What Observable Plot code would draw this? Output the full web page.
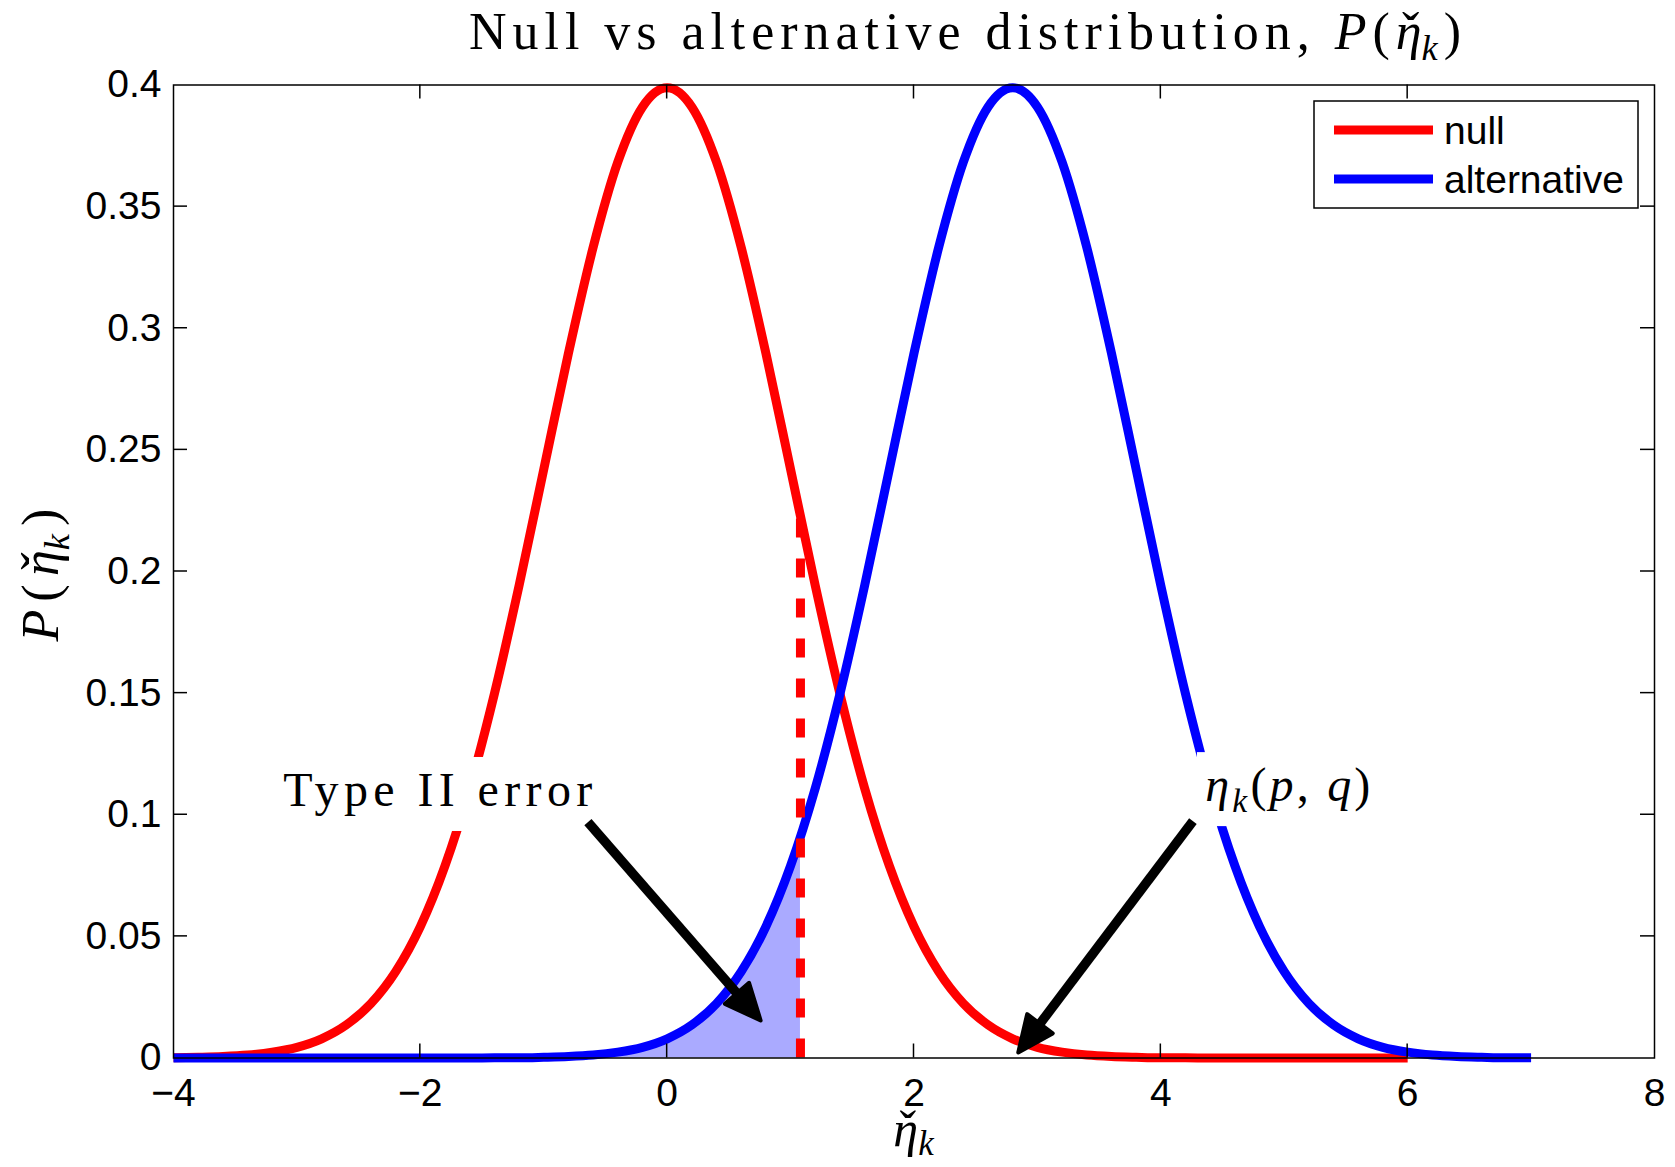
<!DOCTYPE html>
<html><head><meta charset="utf-8">
<script src="https://cdn.jsdelivr.net/npm/d3@7"></script>
<script src="https://cdn.jsdelivr.net/npm/@observablehq/plot@0.6"></script>
<style>html,body{margin:0;padding:0;background:#fff;} svg{display:block}</style>
</head><body><div id="chart"></div>
<script>
// ---- data ----
const xs = [-4,-3.8,-3.6,-3.4,-3.2,-3,-2.8,-2.6,-2.4,-2.2,-2,-1.8,-1.6,-1.4,-1.2,-1,-0.8,-0.6,-0.4,-0.2,
  0,0.2,0.4,0.6,0.8,1,1.2,1.4,1.6,1.8,2,2.2,2.4,2.6,2.8,3,3.2,3.4,3.6,3.8,4,4.2,4.4,4.6,4.8,5,5.2,5.4,5.6,5.8,6,
  6.2,6.4,6.6,6.8,7];
const nullY = [0.0001,0.0003,0.0006,0.0012,0.0024,0.0044,0.0079,0.0136,0.0224,0.0355,0.0540,0.0790,0.1109,0.1497,0.1942,0.2420,0.2897,0.3332,0.3683,0.3910,
  0.3989,0.3910,0.3683,0.3332,0.2897,0.2420,0.1942,0.1497,0.1109,0.0790,0.0540,0.0355,0.0224,0.0136,0.0079,0.0044,0.0024,0.0012,0.0006,0.0003,0.0001,0.0001,
  0,0,0,0,0,0,0,0,0];
const altY = [0,0,0,0,0,0,0,0,0,0,0,0,0,0.0001,0.0001,0.0003,0.0006,0.0012,0.0024,0.0044,
  0.0079,0.0136,0.0224,0.0355,0.0540,0.0790,0.1109,0.1497,0.1942,0.2420,0.2897,0.3332,0.3683,0.3910,0.3989,0.3910,0.3683,0.3332,0.2897,0.2420,0.1942,0.1497,
  0.1109,0.0790,0.0540,0.0355,0.0224,0.0136,0.0079,0.0044,0.0024,0.0012,0.0006,0.0003,0.0001,0.0001];
const threshold = 1.08;
const nullAtThreshold = 0.2227;
const altAtThreshold = 0.0909;
const xTicks = [-4,-2,0,2,4,6,8];
const xTickLabels = ["\u22124","\u22122","0","2","4","6","8"];
const yTicks = [0,0.05,0.1,0.15,0.2,0.25,0.3,0.35,0.4];
const yTickLabels = ["0","0.05","0.1","0.15","0.2","0.25","0.3","0.35","0.4"];
const seriesNames = ["null","alternative"];
const seriesColors = ["#ff0000","#0000ff"];
const arrows = [
  {x1:-0.638, y1:0.0968, x2:0.772, y2:0.0146},
  {x1:4.264, y1:0.0972, x2:2.839, y2:0.0014}
];
const labels = [
  {x:-1.833, y:0.1034, parts:[["Type II error",""]], len:309},
  {x:5.046, y:0.1054, parts:[["\u03B7","i"],["k","sub"],["(",""],["p","i"],[", ",""],["q","i"],[")",""]], len:165}
];
const titleParts = [["Null vs alternative distribution, ",""],["P","i"],["(",""],["\u03B7","ic"],["k","sub"],[")",""]];
const xLabelParts = [["\u03B7","ic"],["k","sub"]];
const yLabelParts = [["P","i"],["(",""],["\u03B7","ic"],["k","sub"],[")",""]];

// ---- build tables ----
const nullData = nullY.map((y,i)=>({x:xs[i], y}));
const altData = altY.map((y,i)=>({x:xs[i], y}));
const fillData = altData.filter(d=>d.x<=threshold).concat([{x:threshold, y:altAtThreshold}]);

const W = 1675, H = 1167;
const plot = Plot.plot({
  width: W, height: H,
  marginLeft: 173, marginRight: 21, marginTop: 84.5, marginBottom: 109.5,
  x: {domain:[-4,8], label:null},
  y: {domain:[0,0.4], label:null},
  style: {fontFamily:"'Liberation Sans', Arial, sans-serif", color:"black", background:"white", overflow:"visible"},
  marks: [
    Plot.areaY(fillData, {x:"x", y:"y", fill:"#aaaaff", curve:"monotone-x"}),
    Plot.line(nullData, {x:"x", y:"y", stroke:seriesColors[0], strokeWidth:9, curve:"monotone-x", strokeLinejoin:"round", strokeLinecap:"butt"}),
    Plot.line(altData, {x:"x", y:"y", stroke:seriesColors[1], strokeWidth:9, curve:"monotone-x", strokeLinejoin:"round", strokeLinecap:"butt"}),
    Plot.ruleX([threshold], {y1:0, y2:nullAtThreshold, stroke:seriesColors[0], strokeWidth:9, strokeDasharray:"19,21"}),
    Plot.frame({stroke:"black", strokeWidth:1.5}),
    Plot.axisX(xTicks, {anchor:"bottom", tickSize:0, tickPadding:20, fontSize:39, label:null,
      tickFormat: d => xTickLabels[xTicks.indexOf(d)]}),
    Plot.axisY(yTicks, {anchor:"left", tickSize:0, tickPadding:12, fontSize:39, label:null,
      tickFormat: d => yTickLabels[yTicks.indexOf(d)]})
  ]
});
document.getElementById("chart").appendChild(plot);

const svg = d3.select(plot);
const sx = plot.scale("x"), sy = plot.scale("y");
const X = v => sx.apply(v), Y = v => sy.apply(v);
const serif = "'Liberation Serif', 'Times New Roman', serif";

// inward ticks on all four sides
const tg = svg.append("g").attr("stroke","black").attr("stroke-width",1.5);
xTicks.slice(1,-1).forEach(v=>{
  tg.append("line").attr("x1",X(v)).attr("x2",X(v)).attr("y1",Y(0)).attr("y2",Y(0)-14);
  tg.append("line").attr("x1",X(v)).attr("x2",X(v)).attr("y1",Y(0.4)).attr("y2",Y(0.4)+14);
});
yTicks.slice(1,-1).forEach(v=>{
  tg.append("line").attr("y1",Y(v)).attr("y2",Y(v)).attr("x1",X(-4)).attr("x2",X(-4)+14);
  tg.append("line").attr("y1",Y(v)).attr("y2",Y(v)).attr("x1",X(8)).attr("x2",X(8)-14);
});

// math text helper: parts of [text, kind]; kind "i" italic, "ic" italic with caron, "sub" subscript
function mathText(parent, {x, y, transform, size, parts, target, subShift = 0.22}){
  const g = parent.append("g");
  if (transform) g.attr("transform", transform);
  const t = g.append("text").attr("x",x).attr("y",y).attr("text-anchor","middle")
    .attr("font-family",serif).attr("font-size",size).attr("fill","black");
  let shifted = false;
  const carons = [];
  let pendingCaron = null;
  parts.forEach(([s, kind])=>{
    const ts = t.append("tspan").text(s);
    if (pendingCaron) { pendingCaron.next = ts; pendingCaron = null; }
    if (kind === "i" || kind === "ic") ts.attr("font-style","italic");
    if (kind === "sub") {
      ts.attr("font-style","italic").attr("font-size", size*0.7).attr("dy", size*subShift);
      shifted = true;
    } else if (shifted) {
      ts.attr("dy", -size*subShift); shifted = false;
    }
    if (kind === "ic") {
      const c = t.append("tspan").text("\u02C7").attr("font-style","normal");
      pendingCaron = {eta: ts, caron: c, next: null};
      carons.push(pendingCaron);
    }
  });
  const place = (ls)=>{
    carons.forEach(o=>{
      const ew = o.eta.node().getComputedTextLength() - ls;
      const cw = o.caron.node().getComputedTextLength() - ls;
      o.caron.attr("dx", -0.42*ew - cw/2 - ls);
      if (o.next) o.next.attr("dx", 0.42*ew - cw/2 - ls);
    });
  };
  place(0);
  if (target) {
    const w0 = t.node().getBBox().width;
    const n = t.node().getNumberOfChars();
    const ls = (target - w0) / Math.max(1, n - 1 - 2*carons.length);
    t.attr("letter-spacing", ls + "px");
    place(ls);
  }
  return g;
}

// annotations: white boxes + text, then arrows on top
labels.forEach(l=>{
  const cx = X(l.x), by = Y(l.y);
  svg.append("rect").attr("fill","white")
    .attr("x", cx - l.len/2 - 10).attr("width", l.len + 20).attr("y", by - 49).attr("height", 74);
  mathText(svg, {x:cx, y:by, size:48, parts:l.parts, target:l.len});
});

arrows.forEach(a=>{
  const x1 = X(a.x1), y1 = Y(a.y1), x2 = X(a.x2), y2 = Y(a.y2);
  const dx = x2-x1, dy = y2-y1, L = Math.hypot(dx,dy), ux = dx/L, uy = dy/L;
  const hl = 38, hw = 16;
  const bx = x2 - ux*hl, by = y2 - uy*hl;
  svg.append("line").attr("x1",x1).attr("y1",y1).attr("x2",bx+ux*4).attr("y2",by+uy*4)
    .attr("stroke","black").attr("stroke-width",9.5);
  const pts = [[x2-ux*2,y2-uy*2],[bx - uy*hw, by + ux*hw],[bx + uy*hw, by - ux*hw]];
  svg.append("polygon").attr("points", pts.map(p=>p.join(",")).join(" "))
    .attr("fill","black").attr("stroke","black").attr("stroke-width",4).attr("stroke-linejoin","round");
});

// legend
const lg = svg.append("g");
lg.append("rect").attr("x",1314).attr("y",101).attr("width",324).attr("height",107)
  .attr("fill","white").attr("stroke","black").attr("stroke-width",1.5);
seriesNames.forEach((name,i)=>{
  const yy = 130 + i*49;
  lg.append("line").attr("x1",1334).attr("x2",1433).attr("y1",yy).attr("y2",yy)
    .attr("stroke",seriesColors[i]).attr("stroke-width",9);
  lg.append("text").attr("x",1444).attr("y",yy+14).attr("font-size",39).attr("text-anchor","start")
    .attr("font-family","'Liberation Sans', Arial, sans-serif").attr("fill","black").text(name);
});

// title
mathText(svg, {x:968, y:49, size:52, parts:titleParts, target:992});
// x label
mathText(svg, {x:(X(-4)+X(8))/2, y:1146, size:50, parts:xLabelParts, subShift:0.18});
// y label
mathText(svg, {x:0, y:0, transform:`translate(58,${(Y(0)+Y(0.4))/2}) rotate(-90)`, size:52, parts:yLabelParts, target:134});
</script>
</body></html>
